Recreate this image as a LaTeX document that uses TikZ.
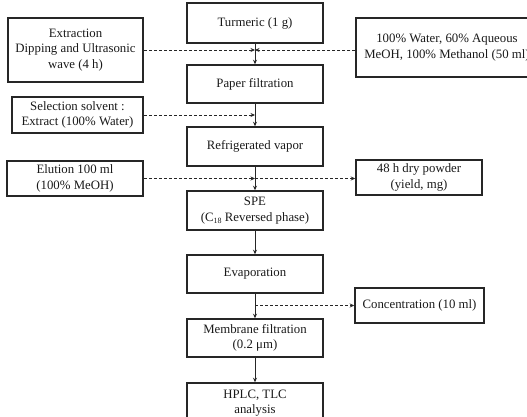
\documentclass[tikz,border=0pt]{standalone}
\usepackage{fontspec}
\setmainfont{Liberation Serif}
\usetikzlibrary{arrows.meta}
\tikzset{
  box/.style={draw=black!85, line width=1.5pt, inner sep=0pt, align=center,
    font=\fontsize{12.8}{15.5}\selectfont, text=black!90},
  flow/.style={line width=0.9pt, draw=black!85, -{Stealth[length=4.5pt,width=4pt]}},
  side/.style={line width=0.9pt, draw=black!85, dash pattern=on 3pt off 2pt, -{Stealth[length=4.5pt,width=4pt]}}
}
\begin{document}
\begin{tikzpicture}[x=1pt,y=-1pt]
\useasboundingbox (0,0) rectangle (527,417);
\clip (0,0) rectangle (527,417);
% centre column
\node[box, minimum width=136pt, minimum height=40pt] (turmeric) at (255,23) {Turmeric (1 g)};
\node[box, minimum width=136pt, minimum height=38pt] (paper) at (255,84) {Paper filtration};
\node[box, minimum width=136pt, minimum height=39pt] (refrig) at (255,146.5) {Refrigerated vapor};
\node[box, minimum width=136pt, minimum height=39pt] (spe) at (255,210.5) {SPE\\(C{\fontsize{8}{8}\selectfont\raisebox{-2.5pt}{18}} Reversed phase)};
\node[box, minimum width=136pt, minimum height=38pt] (evap) at (255,274) {Evaporation};
\node[box, minimum width=136pt, minimum height=38pt] (membrane) at (255,338) {Membrane filtration\\(0.2 μm)};
\node[box, minimum width=136pt, minimum height=40pt] (hplc) at (255,403) {HPLC, TLC\\analysis};
% left column
\node[box, minimum width=135pt, minimum height=64pt] (extraction) at (75.5,50) {Extraction\\Dipping and Ultrasonic\\wave (4 h)};
\node[box, minimum width=131pt, minimum height=36pt] (selection) at (77.5,115) {Selection solvent :\\Extract (100\% Water)};
\node[box, minimum width=136pt, minimum height=35pt] (elution) at (75,178.5) {Elution 100 ml\\(100\% MeOH)};
% right column
\node[box, minimum width=182pt, minimum height=59pt] (water) at (447,47.5) {100\% Water, 60\% Aqueous\\MeOH, 100\% Methanol (50 ml)};
\node[box, minimum width=126pt, minimum height=35pt] (dry) at (419,177.5) {48 h dry powder\\(yield, mg)};
\node[box, minimum width=129pt, minimum height=35pt] (conc) at (419.5,305.5) {Concentration (10 ml)};
% junction points on the main line
\coordinate (j1) at (extraction.east -| turmeric.south);
\coordinate (j2) at (selection.east -| paper.south);
\coordinate (j3) at (elution.east -| refrig.south);
\coordinate (j4) at (conc.west -| evap.south);
% main flow
\draw[flow] (turmeric) -- (paper);
\draw[flow] (paper) -- (refrig);
\draw[flow] (refrig) -- (spe);
\draw[flow] (spe) -- (evap);
\draw[flow] (evap) -- (membrane);
\draw[flow] (membrane) -- (hplc);
% side flows
\draw[side] (extraction.east) -- (j1);
\draw[side] (water.west |- j1) -- (j1);
\draw[side] (selection.east) -- (j2);
\draw[side] (elution.east) -- (j3);
\draw[side] (j3) -- (dry.west |- j3);
\draw[side] (j4) -- (conc.west);
\end{tikzpicture}
\end{document}
